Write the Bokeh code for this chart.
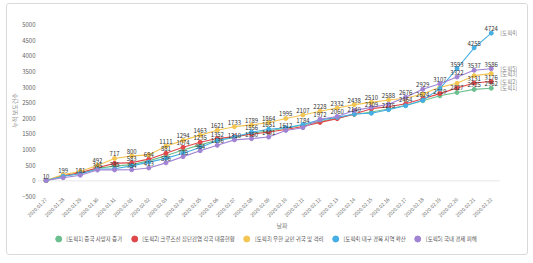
from math import pi
from bokeh.plotting import figure
from bokeh.layouts import column
from bokeh.models import (ColumnDataSource, LabelSet, Legend, LegendItem, Label,
                          Range1d, FixedTicker)
from bokeh.core.properties import value
from bokeh.embed import file_html
from bokeh.resources import INLINE

dates = ["2020.01.27", "2020.01.28", "2020.01.29", "2020.01.30", "2020.01.31",
         "2020.02.01", "2020.02.02", "2020.02.03", "2020.02.04", "2020.02.05",
         "2020.02.06", "2020.02.07", "2020.02.08", "2020.02.09", "2020.02.10",
         "2020.02.11", "2020.02.12", "2020.02.13", "2020.02.14", "2020.02.15",
         "2020.02.16", "2020.02.17", "2020.02.18", "2020.02.19", "2020.02.20",
         "2020.02.21", "2020.02.22"]

topic1 = [10, 160, 240, 400, 470, 520, 640, 800, 990, 1150, 1300, 1380, 1520, 1600,
          1680, 1784, 1900, 2010, 2120, 2200, 2300, 2420, 2560, 2719, 2827, 2925, 2962]
topic2 = [10, 170, 260, 420, 560, 583, 694, 881, 1074, 1235, 1352, 1420, 1490, 1560,
          1640, 1740, 1870, 1990, 2140, 2309, 2370, 2464, 2624, 2790, 2970, 3131, 3176]
topic3 = [10, 199, 300, 492, 717, 800, 830, 1111, 1294, 1463, 1621, 1733, 1789, 1864,
          1995, 2107, 2228, 2332, 2438, 2510, 2588, 2640, 2780, 2990, 3120, 3365, 3430]
topic4 = [10, 150, 230, 370, 385, 480, 600, 720, 880, 1070, 1290, 1400, 1556, 1651,
          1700, 1800, 1950, 2030, 2140, 2160, 2275, 2400, 2580, 2950, 3593, 4255, 4724]
topic5 = [10, 100, 181, 345, 350, 354, 413, 576, 775, 964, 1136, 1310, 1350, 1401,
          1612, 1700, 1972, 2060, 2250, 2350, 2450, 2676, 2929, 3107, 3322, 3537, 3586]

series_names = ["[토픽1] 중국 사망자 증가", "[토픽2] 크루즈선 집단감염 각국 대응현황",
                "[토픽3] 우한 교민 귀국 및 격리", "[토픽4] 대구 경북 지역 확산",
                "[토픽5] 국내 경제 피해"]
end_names = ["[토픽1]", "[토픽2]", "[토픽3]", "[토픽4]", "[토픽5]"]
y_ticks = [-500, 0, 500, 1000, 1500, 2000, 2500, 3000, 3500, 4000, 4500, 5000]

# which point labels are visible (others hidden by overlap in the original)
shown = [
    [15, 23, 24, 25, 26],
    [5, 6, 7, 8, 9, 10, 19, 21, 22, 25, 26],
    [0, 1, 3, 4, 5, 7, 8, 9, 10, 11, 12, 13, 14, 15, 16, 17, 18, 19, 20],
    [4, 12, 13, 18, 20, 24, 25, 26],
    [2, 3, 5, 6, 7, 8, 9, 10, 11, 12, 13, 14, 16, 17, 21, 22, 23, 24, 25, 26],
]
colors = ["#6cbf8e", "#e0474a", "#f3c552", "#45aee3", "#a183d3"]
FONT = "Noto Sans CJK KR"

n = len(dates)
xs = list(range(n))

p = figure(x_range=Range1d(-0.5, n + 1.0), y_range=Range1d(-500, 5000),
           frame_width=488, frame_height=172, output_backend="svg",
           toolbar_location=None, min_border_left=29, min_border_right=2,
           min_border_top=20, min_border_bottom=0,
           border_fill_color="white", outline_line_color=None)
p.xgrid.visible = False
p.ygrid.visible = False

# zero baseline across the category bands
p.segment(x0=[-0.5], x1=[n - 0.5], y0=[0], y1=[0], line_color="#e6e6e6", line_width=1)

all_series = [topic1, topic2, topic3, topic4, topic5]
for vals, col, endn, vis in zip(all_series, colors, end_names, shown):
    src = ColumnDataSource(dict(x=xs, y=vals))
    p.line("x", "y", source=src, line_color=col, line_width=1.1)
    p.scatter("x", "y", source=src, size=4, fill_color=col, line_color=col)
    lsrc = ColumnDataSource(dict(x=[xs[i] for i in vis], y=[vals[i] for i in vis],
                                 t=[str(vals[i]) for i in vis]))
    p.add_layout(LabelSet(x="x", y="y", text="t", source=lsrc, y_offset=2,
                          text_align="center", text_baseline="bottom",
                          text_font_size="6px", text_color="#333333",
                          text_font=value(FONT)))
    esrc = ColumnDataSource(dict(x=[xs[-1]], y=[vals[-1]], t=[endn]))
    p.add_layout(LabelSet(x="x", y="y", text="t", source=esrc, x_offset=9,
                          text_align="left", text_baseline="middle",
                          text_font_size="5.5px", text_color="#888888",
                          text_font=value(FONT)))

p.yaxis.ticker = FixedTicker(ticks=y_ticks)
p.yaxis.axis_line_color = None
p.yaxis.major_tick_line_color = None
p.yaxis.minor_tick_line_color = None
p.yaxis.major_tick_out = 0
p.yaxis.major_label_text_font_size = "6px"
p.yaxis.major_label_text_color = "#666666"
p.yaxis.major_label_text_font = FONT
p.yaxis.major_label_standoff = 2
p.yaxis.axis_label = "누적 보도건수"
p.yaxis.axis_label_text_font_size = "6px"
p.yaxis.axis_label_text_font_style = "normal"
p.yaxis.axis_label_text_color = "#888888"
p.yaxis.axis_label_text_font = FONT
p.yaxis.axis_label_standoff = 0

p.xaxis.ticker = FixedTicker(ticks=xs)
p.xaxis.major_label_overrides = {i: d for i, d in zip(xs, dates)}
p.xaxis.axis_line_color = None
p.xaxis.major_tick_line_color = None
p.xaxis.minor_tick_line_color = None
p.xaxis.major_tick_out = 0
p.xaxis.major_label_orientation = pi / 4
p.xaxis.major_label_text_font_size = "5px"
p.xaxis.major_label_text_color = "#666666"
p.xaxis.major_label_text_font = FONT
p.xaxis.major_label_standoff = 2

# bottom strip: x-axis title and legend
leg = figure(width=485, height=33, x_range=Range1d(0, 1), y_range=Range1d(0, 1),
             output_backend="svg", toolbar_location=None, x_axis_location=None,
             y_axis_location=None, min_border=0, outline_line_color=None)
leg.grid.visible = False
leg.add_layout(Label(x=0.54, y=1, y_offset=-4, text="날짜", text_align="center",
                     text_baseline="middle", text_font_size="6px",
                     text_color="#888888", text_font=FONT))
items = []
for col, name in zip(colors, series_names):
    r = leg.scatter(x=[float("nan")], y=[float("nan")], size=7,
                    fill_color=col, line_color=col)
    items.append(LegendItem(label=name, renderers=[r]))
legend = Legend(items=items, orientation="horizontal", location="bottom_center",
                label_text_font_size="5.5px", label_text_font=FONT,
                label_text_color="#555555", glyph_width=15, glyph_height=15,
                label_standoff=1, spacing=4, padding=1, margin=8,
                border_line_color=None, background_fill_alpha=0)
leg.add_layout(legend, "center")

layout = column(p, leg, spacing=0, margin=(3, 0, 0, 6),
                styles={"border": "1px solid #d9d9d9", "border-radius": "3px"})

open("out.html", "w").write(file_html(layout, INLINE))
